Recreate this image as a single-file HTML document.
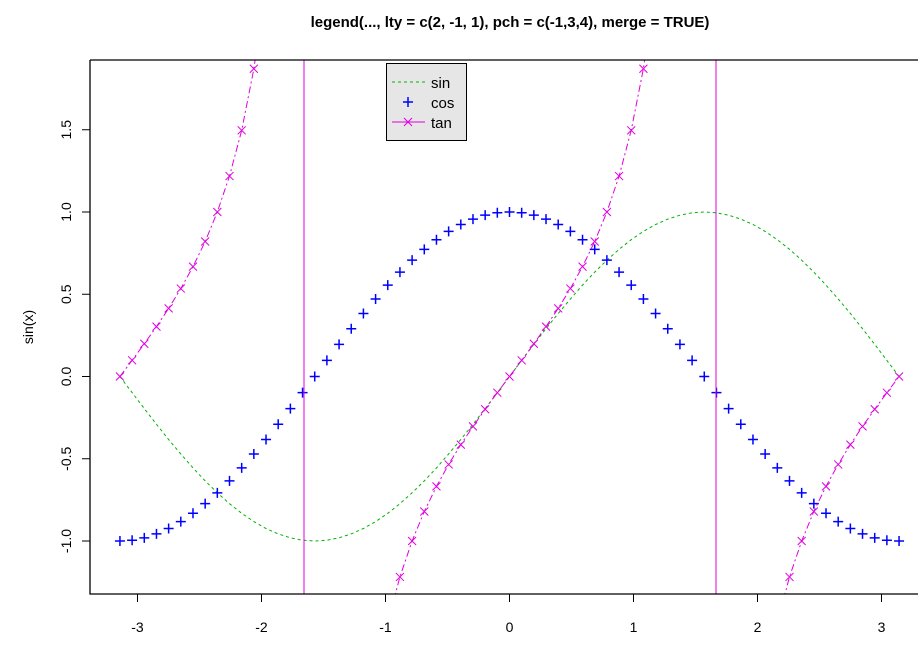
<!DOCTYPE html>
<html><head><meta charset="utf-8"><style>
html,body{margin:0;padding:0;background:#fff;width:918px;height:656px;overflow:hidden}
svg{display:block;font-family:"Liberation Sans",Arial,sans-serif}
</style></head><body>
<svg id="s" width="918" height="656" xmlns="http://www.w3.org/2000/svg">
<defs><clipPath id="c"><rect x="90" y="60" width="840" height="534"/></clipPath></defs>
<text x="510" y="27" text-anchor="middle" font-size="15" font-weight="bold">legend(..., lty = c(2, -1, 1), pch = c(-1,3,4), merge = TRUE)</text>
<g id="g" clip-path="url(#c)"></g>
<g stroke="#000" stroke-width="1.3" fill="none">
<path d="M90,60 H918 M90,60 V594 H918"/>
</g>
<g id="ax"></g>
<text transform="translate(33,327) rotate(-90)" text-anchor="middle" font-size="14">sin(x)</text>
<rect x="386.5" y="63.5" width="80" height="77" fill="#e6e6e6" stroke="#000" stroke-width="1"/>
<line x1="392" y1="82" x2="425" y2="82" stroke="#00b400" stroke-dasharray="3,3"/>
<path d="M403,102h10M408,97v10" stroke="#0000ff" stroke-width="1.5"/>
<line x1="392" y1="122" x2="425" y2="122" stroke="#e000e0"/>
<path d="M404,118l8,8M412,118l-8,8" stroke="#e000e0"/>
<text x="431" y="88" font-size="15">sin</text>
<text x="431" y="108" font-size="15">cos</text>
<text x="431" y="128" font-size="15">tan</text>
</svg>
<script>
var X=v=>509.5+v*124, Y=v=>376.5-v*164.5;
var g=document.getElementById('g'),ax=document.getElementById('ax'),h='',a='';
var xs=[];for(var i=0;i<65;i++)xs.push(-Math.PI+i*Math.PI/32);
var p='';xs.forEach((x,i)=>{p+=(i?'L':'M')+X(x).toFixed(1)+','+Y(Math.sin(x)).toFixed(1)});
h+='<path d="'+p+'" fill="none" stroke="#00b400" stroke-dasharray="3,3"/>';
xs.forEach(x=>{var px=X(x),py=Y(Math.cos(x));h+='<path d="M'+(px-5)+','+py+'h10M'+px+','+(py-5)+'v10" stroke="#0000ff" stroke-width="1.5"/>'});
var segs=[[0,15],[17,47],[49,64]];
segs.forEach(s=>{var q='';for(var i=s[0];i<=s[1];i++){var t=Math.tan(xs[i]);t=Math.max(-5,Math.min(5,t));q+=(i==s[0]?'M':'L')+X(xs[i]).toFixed(1)+','+Y(t).toFixed(1)}
h+='<path d="'+q+'" fill="none" stroke="#e000e0" stroke-dasharray="7,3,2,3"/>';
for(var i=s[0];i<=s[1];i++){var t=Math.tan(xs[i]);if(Math.abs(t)<2.2){var px=X(xs[i]),py=Y(t);h+='<path d="M'+(px-4)+','+(py-4)+'l8,8M'+(px+4)+','+(py-4)+'l-8,8" stroke="#e000e0"/>'}}});
[304,716].forEach(px=>{h+='<line x1="'+px+'" y1="60" x2="'+px+'" y2="594" stroke="#e000e0"/>'});
g.innerHTML=h;
[-3,-2,-1,0,1,2,3].forEach(v=>{var px=X(v);a+='<line x1="'+px+'" y1="594" x2="'+px+'" y2="602" stroke="#000"/><text x="'+px+'" y="632" text-anchor="middle" font-size="14">'+v+'</text>'});
[-1,-0.5,0,0.5,1,1.5].forEach(v=>{var py=Y(v);a+='<line x1="82" y1="'+py+'" x2="90" y2="'+py+'" stroke="#000"/><text transform="translate(71,'+py+') rotate(-90)" text-anchor="middle" font-size="14">'+v.toFixed(1)+'</text>'});
ax.innerHTML=a;
</script>
</body></html>
